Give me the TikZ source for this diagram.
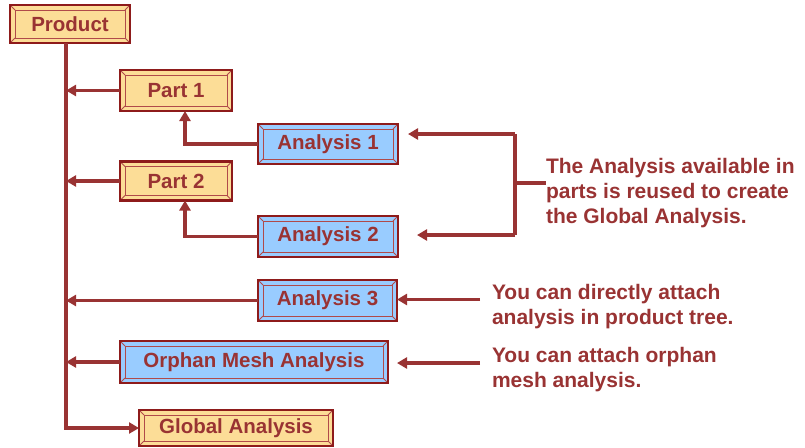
\documentclass[tikz,border=0pt]{standalone}
\usepackage{fontspec}
\setmainfont{Liberation Sans}
\usetikzlibrary{arrows.meta,calc}
\definecolor{dred}{HTML}{993333}
\definecolor{bord}{HTML}{8E1B1B}
\definecolor{bevl}{HTML}{B04A4A}
\definecolor{yfill}{HTML}{FCDD97}
\definecolor{bfill}{HTML}{99CCFF}
\newcommand\bevbox[1]{%
  \draw[bevl, line width=0.9pt] ([shift={(5pt,-5pt)}]#1.north west) rectangle ([shift={(-5pt,5pt)}]#1.south east);
  \draw[bevl, line width=0.9pt] (#1.north west) -- ([shift={(5pt,-5pt)}]#1.north west)
    (#1.north east) -- ([shift={(-5pt,-5pt)}]#1.north east)
    (#1.south west) -- ([shift={(5pt,5pt)}]#1.south west)
    (#1.south east) -- ([shift={(-5pt,5pt)}]#1.south east);
  \draw[bord, line width=2.4pt] (#1.north west) rectangle (#1.south east);
}
\tikzset{
  box/.style={rectangle, inner sep=0pt, outer sep=0pt, text=dred,
    font=\fontsize{20.5}{24}\selectfont\bfseries},
  ybox/.style={box, fill=yfill},
  bbox/.style={box, fill=bfill},
  conn/.style={draw=dred, line width=3.4pt},
  arr/.style={conn, -{Triangle[length=10pt,width=11pt]}},
  note/.style={text=dred, inner sep=0pt, outer sep=0pt, anchor=north west, align=left,
    font=\fontsize{21}{25}\selectfont\bfseries}
}
\begin{document}
\begin{tikzpicture}[x=1pt,y=-1pt]
\useasboundingbox (0,0) rectangle (805,447);
% boxes
\node[ybox, minimum width=120pt, minimum height=38pt] (prod) at (70,24) {Product};
\node[ybox, minimum width=112pt, minimum height=41pt] (p1) at (176,90.5) {Part 1};
\node[ybox, minimum width=112pt, minimum height=39pt] (p2) at (176,181) {Part 2};
\node[bbox, minimum width=140pt, minimum height=40pt] (a1) at (328,144) {Analysis 1};
\node[bbox, minimum width=140pt, minimum height=41pt] (a2) at (328,236.5) {Analysis 2};
\node[bbox, minimum width=139pt, minimum height=41pt] (a3) at (327.5,300.5) {Analysis 3};
\node[bbox, minimum width=268pt, minimum height=42pt] (om) at (254,362) {Orphan Mesh Analysis};
\node[ybox, minimum width=194pt, minimum height=36pt] (ga) at (236,428) {Global Analysis};
\foreach \n in {prod,p1,p2,a1,a2,a3,om,ga}{\bevbox{\n}}
% notes
\node[note] (n1) at (546,158) {The Analysis available in\\parts is reused to create\\the Global Analysis.};
\node[note] (n2) at (492,284) {You can directly attach\\analysis in product tree.};
\node[note] (n3) at (492,347) {You can attach orphan\\mesh analysis.};
% coordinates
\coordinate (trunk) at (66,0);
\coordinate (bt) at (515,134);
\coordinate (bb) at (515,235);
\coordinate (bm) at (515,183);
\coordinate (c3) at (480,299.5);
\coordinate (c4) at (480,363);
% trunk
\draw[arr] (trunk |- prod.south) |- (ga.west);
\draw[arr] (p1.west) -- (p1.west -| trunk);
\draw[arr] (p2.west) -- (p2.west -| trunk);
\draw[arr] (a3.west) -- (a3.west -| trunk);
\draw[arr] (om.west) -- (om.west -| trunk);
% analysis to parts
\draw[arr] (a1.west) -| ([xshift=9pt]p1.south);
\draw[arr] (a2.west) -| ([xshift=9pt]p2.south);
% bracket
\draw[conn] (bt) -- (bb);
\draw[conn] (bm) -- (bm -| n1.west);
\draw[arr, shorten >=10pt] (bt) -- (bt -| a1.east);
\draw[arr, shorten >=19pt] (bb) -- (bb -| a2.east);
% side arrows
\draw[arr] (c3) -- (c3 -| a3.east);
\draw[arr, shorten >=9pt] (c4) -- (c4 -| om.east);
\end{tikzpicture}
\end{document}
